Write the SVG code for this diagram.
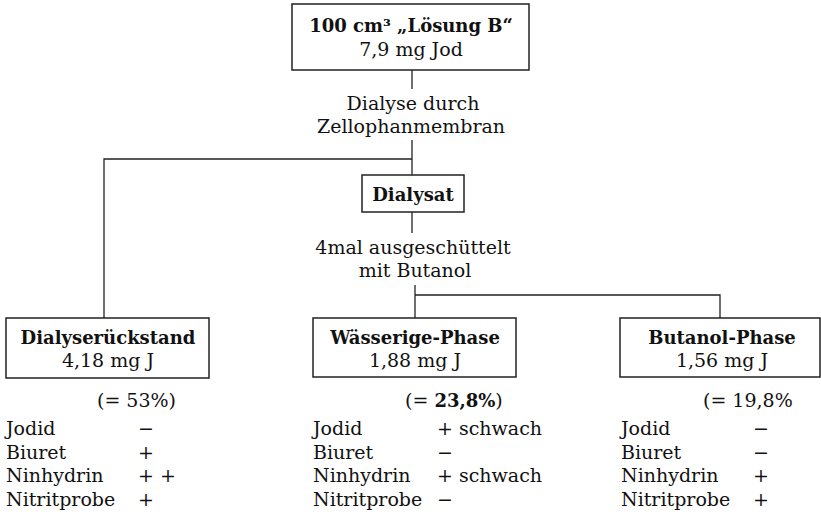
<svg xmlns="http://www.w3.org/2000/svg" width="821" height="519" viewBox="0 0 821 519">
  <style>
    text { font-family: "DejaVu Serif", "Liberation Serif", serif; font-size: 19px; fill: #111; }
    .b { font-weight: bold; font-size: 18px; }
    .c { text-anchor: middle; }
    .box { fill: none; stroke: #222; stroke-width: 1.5; }
    .ln { fill: none; stroke: #222; stroke-width: 1.3; }
  </style>
  <rect width="821" height="519" fill="#fff"/>

  <g id="connectors">
    <path class="ln" d="M412 70 V89"/>
    <path class="ln" d="M412 140 V175"/>
    <path class="ln" d="M412 159 H104 V318"/>
    <path class="ln" d="M412 212 V233"/>
    <path class="ln" d="M415 285 V318"/>
    <path class="ln" d="M415 295 H720 V318"/>
  </g>

  <g id="loesung-b">
    <rect class="box" x="292" y="4" width="237" height="66"/>
    <text class="c b" x="411" y="32">100 cm³ „Lösung B“</text>
    <text class="c" x="411" y="56">7,9 mg Jod</text>
  </g>

  <g id="dialyse-label">
    <text class="c" x="413" y="110">Dialyse durch</text>
    <text class="c" x="411" y="133">Zellophanmembran</text>
  </g>

  <g id="dialysat">
    <rect class="box" x="362" y="175" width="102" height="37"/>
    <text class="c b" x="413" y="201">Dialysat</text>
  </g>

  <g id="butanol-label">
    <text class="c" x="413" y="254">4mal ausgeschüttelt</text>
    <text class="c" x="415" y="277">mit Butanol</text>
  </g>

  <g id="dialyserueckstand">
    <rect class="box" x="6" y="318" width="203" height="60"/>
    <text class="c b" x="108" y="344">Dialyserückstand</text>
    <text class="c" x="108" y="367">4,18 mg J</text>
    <text x="97" y="407">(= 53%)</text>
    <text x="6" y="435">Jodid</text><text x="138" y="435">−</text>
    <text x="6" y="459">Biuret</text><text x="138" y="459">+</text>
    <text x="6" y="482">Ninhydrin</text><text x="138" y="482">+ +</text>
    <text x="6" y="506">Nitritprobe</text><text x="138" y="506">+</text>
  </g>

  <g id="waesserige-phase">
    <rect class="box" x="313" y="318" width="203" height="59"/>
    <text class="c b" x="415" y="344">Wässerige-Phase</text>
    <text class="c" x="415" y="367">1,88 mg J</text>
    <text x="405" y="407">(= <tspan class="b" font-size="19">23,8%</tspan>)</text>
    <text x="313" y="435">Jodid</text><text x="437" y="435">+ schwach</text>
    <text x="313" y="459">Biuret</text><text x="437" y="459">−</text>
    <text x="313" y="482">Ninhydrin</text><text x="437" y="482">+ schwach</text>
    <text x="313" y="506">Nitritprobe</text><text x="437" y="506">−</text>
  </g>

  <g id="butanol-phase">
    <rect class="box" x="620" y="318" width="200" height="59"/>
    <text class="c b" x="722" y="344">Butanol-Phase</text>
    <text class="c" x="722" y="367">1,56 mg J</text>
    <text x="703" y="407">(= 19,8%</text>
    <text x="621" y="435">Jodid</text><text x="753" y="435">−</text>
    <text x="621" y="459">Biuret</text><text x="753" y="459">−</text>
    <text x="621" y="482">Ninhydrin</text><text x="753" y="482">+</text>
    <text x="621" y="506">Nitritprobe</text><text x="753" y="506">+</text>
  </g>
</svg>
